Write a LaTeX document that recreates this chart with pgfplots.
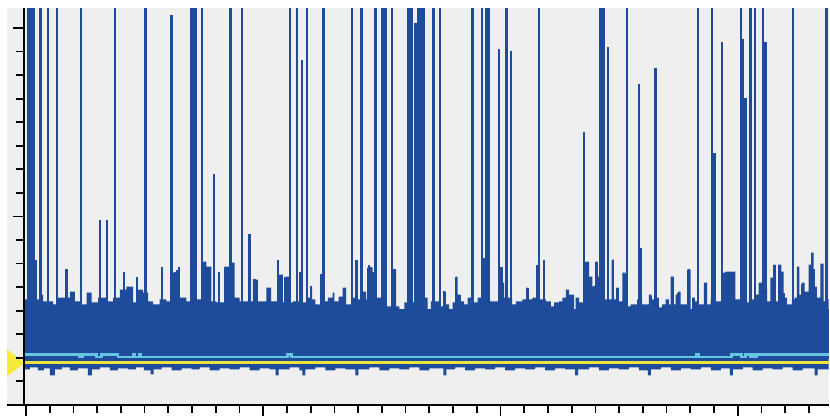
\documentclass[border=0pt]{standalone}
\usepackage{pgfplots}
\pgfplotsset{compat=1.18}
\definecolor{bg}{RGB}{239,239,239}
\definecolor{wave}{RGB}{31,75,155}
\definecolor{cyanline}{RGB}{100,198,226}
\definecolor{yel}{RGB}{236,228,60}
\definecolor{tri}{RGB}{244,234,58}
\begin{document}
\begin{tikzpicture}
\begin{axis}[
  x=1pt, y=1pt, xmin=24, xmax=830, ymin=-76, ymax=322,
  clip=false, axis on top,
  axis x line*=bottom, axis y line*=left,
  axis line style={-, line width=2pt, black},
  xtick={26,263.67,501.33,739},
  minor xtick={49.77,73.53,97.3,121.07,144.83,168.6,192.37,216.13,239.9,287.43,311.2,334.97,358.73,382.5,406.27,430.03,453.8,477.57,525.1,548.87,572.63,596.4,620.17,643.93,667.7,691.47,715.23,762.77,786.53,810.3},
  ytick={113.2,302},
  minor ytick={278.4,254.8,231.2,207.6,184,160.4,136.8,89.6,66,42.4,18.8,-4.8,-28.4,-52},
  tick align=outside, major tick length=11pt, minor tick length=7.5pt,
  tick style={black, line width=1.8pt},
  xticklabels={}, yticklabels={}, tick label style={overlay},
]
\fill[bg] (axis cs:7,-76) rectangle (axis cs:830,322);
% body: top envelope
\addplot[const plot, fill=wave, draw=none] coordinates {
(24,30)(35,30)(40,35)(43.3,28)(53.3,25)(58,32)(70,38)(75,28)(81.7,25)(86.7,37)(91.7,27)(98.3,32)(106.7,28)(113.3,32)(120,40)(126.7,43)(133.3,27)(138.3,40)(143.3,37)(148.3,28)(153.3,25)(160,30)(166.7,28)(171.7,40)(173,57)(180,32)(186.7,28)(191.7,30)(201.7,68)(206.7,63)(211.7,28)(216.7,27)(225,63)(230,67)(235,32)(240,28)(253.3,50)(258.3,28)(266.7,42)(271.7,28)(278.3,55)(283.3,27)(286.7,53)(290,27)(293.3,28)(303.3,27)(308.3,32)(310.7,43)(312.7,30)(316,25)(320.7,55)(324.7,28)(328.3,32)(333.3,37)(335,28)(339.3,33)(343.3,42)(346.7,25)(351.7,32)(358.3,30)(362.7,38)(366.7,30)(367.7,62)(373.3,52)(376,32)(387.3,23)(393.3,60)(396.7,23)(400,17)(405,27)(425,32)(428.3,13)(431.7,28)(441.7,23)(445,38)(446.7,25)(450,20)(453.3,27)(456.7,53)(458.3,35)(461.7,28)(465,25)(468.3,32)(471.7,27)(478.3,32)(483,30)(491,28)(501.7,47)(505,32)(513,25)(516.7,28)(523.3,30)(527.3,42)(529.3,30)(533.3,32)(536.7,30)(546.7,28)(551.7,23)(555,27)(560,28)(563.3,32)(566.7,40)(570,35)(575,20)(576.7,32)(580,27)(584,30)(586.7,68)(590,53)(593.3,43)(596,68)(598.3,53)(600.7,30)(612.7,70)(615,30)(617.3,42)(620,28)(623.3,57)(626.7,30)(628.3,23)(631.7,25)(638.3,30)(643.3,25)(650,35)(652.7,30)(658.3,32)(660,22)(663.3,25)(666.7,30)(670,25)(671.7,53)(675,25)(676.7,35)(679.3,38)(681.7,25)(688.3,60)(691.7,20)(693.3,32)(696,28)(700,25)(705,47)(708.3,25)(711.7,30)(716.7,28)(723.3,57)(726.7,58)(736.7,30)(748.3,27)(751.7,30)(756.7,35)(760,47)(763.3,40)(768.3,28)(771.7,52)(775,65)(776.7,28)(780,65)(782.7,58)(785,32)(788.3,25)(793.3,30)(796,32)(798.3,63)(800.7,35)(803.3,47)(806,38)(810,65)(812.7,77)(815,43)(818.3,32)(821.7,66)(825,28)(826.7,30)(830,30)
} \closedcycle;
% body: bottom envelope
\addplot[const plot, fill=wave, draw=none] coordinates {
(24,-40)(30,-38)(38,-41)(44,-39)(50,-46)(55,-40)(62,-38)(70,-41)(78,-39)(88,-46)(92,-40)(100,-38)(110,-41)(118,-39)(128,-40)(136,-38)(144,-41)(151,-45)(154,-40)(162,-38)(172,-41)(182,-39)(192,-40)(200,-38)(210,-41)(220,-39)(230,-40)(240,-38)(250,-41)(260,-39)(270,-40)(276,-46)(279,-40)(290,-38)(300,-41)(303,-46)(306,-40)(316,-38)(326,-41)(336,-39)(346,-40)(356,-46)(359,-40)(370,-38)(380,-41)(390,-39)(400,-40)(410,-38)(420,-41)(430,-39)(444,-46)(447,-40)(456,-38)(466,-41)(476,-39)(486,-40)(496,-38)(506,-41)(516,-39)(526,-40)(536,-38)(546,-41)(556,-39)(566,-40)(576,-46)(579,-40)(590,-38)(600,-41)(610,-39)(620,-40)(630,-38)(640,-41)(649,-46)(652,-40)(662,-38)(672,-41)(682,-39)(692,-40)(702,-38)(712,-41)(722,-39)(731,-46)(734,-40)(744,-38)(754,-41)(764,-39)(774,-40)(784,-38)(794,-41)(804,-39)(816,-46)(819,-40)(830,-40)
} \closedcycle;
\addplot[fill=wave, draw=none] coordinates {(24,-30) (830,-30) (830,20) (24,20)};
% spikes
\addplot[ycomb, wave, line width=2.4pt, mark=none] coordinates {
(28.3,322)(30,322)(31.7,322)(33.3,322)(34.3,322)(36,70)(40.7,322)(48.3,322)(57.3,322)(66.7,61)(81,322)(100,110)(107.3,110)(115,322)(124,58)(137,53)(145.7,322)(162.3,63)(171.7,315)(175,58)(177,60)(179,63)(192,322)(193.5,322)(195,322)(196.5,322)(202.3,322)(205,68)(210,63)(214.3,156)(219.3,58)(226,63)(231,322)(233.3,66)(242.7,322)(250,96)(255,51)(269,42)(278.7,70)(285.7,53)(290.7,322)(297.7,322)
(300.5,58)(302.3,270)(307.3,322)(311.7,44)(321.7,56)(324,322)(345,42)(352.3,322)(357,70)(362,322)(369.5,65)(371.5,63)(373,58)(376.3,322)(383,322)(384.5,322)(386,322)(392.7,322)(395.3,61)(409,322)(410.5,322)(412,322)(416,307)(417.5,307)(419,322)(420.5,322)(422,322)(423.5,322)(424.5,322)(433.5,322)(435,322)(440.7,322)(445,39)(456.7,53)(473.3,322)(482.7,322)(485,72)(487.5,322)(489,322)(490,322)(500,281)(502.3,63)(507.3,322)(511.7,279)(528.3,42)(537.7,65)(540,322)(545,70)(567.7,39)
(585,198)(587.3,68)(590,53)(595,44)(597.3,68)(600,53)(601.5,322)(603,322)(604.5,322)(609.3,283)(614,70)(618.3,42)(625.7,56)(628.3,322)(640,246)(642.3,82)(651.7,34)(656.7,262)(673.3,53)(679.5,37)(690,61)(699.3,322)(706.7,46)(713.3,322)(715.7,177)(723.3,288)(742.3,322)(744.3,291)(746.7,232)(751.7,322)(756,322)(761.7,46)(764,322)(765.5,288)(767,288)(773.3,51)(775.7,65)(780.7,65)(782.7,58)(785,37)(794.3,322)(799.3,63)(804,46)(811.7,63)(813.3,77)(815,61)(823.3,66)(827.7,322)
};
% cyan level
\addplot[const plot, cyanline, line width=2.8pt] coordinates {
(24,-25.3)(80,-27.5)(83,-25.3)(97,-27.5)(102,-25.3)(118.3,-27.5)(133.3,-25.3)(135,-27.5)(139.3,-25.3)(140.7,-27.5)(288,-25.3)(292,-27.5)(698,-25.3)(700,-27.5)(733,-25.3)(743,-27.5)(747,-25.3)(752,-27.5)(754,-25.3)(756,-27.5)(757.5,-25.3)(830,-25.3)
};
% yellow level
\addplot[yel, line width=2.4pt] coordinates {(24,-33.3) (830,-33.3)};
% yellow marker
\addplot[fill=tri, draw=none] coordinates {(7,-20) (25,-33.3) (7,-47)};
\draw[black, line width=2pt] (axis cs:7,-76) -- (axis cs:24,-76);
\path (axis cs:0,-85) rectangle (axis cs:830,330);
\end{axis}
\end{tikzpicture}
\end{document}
